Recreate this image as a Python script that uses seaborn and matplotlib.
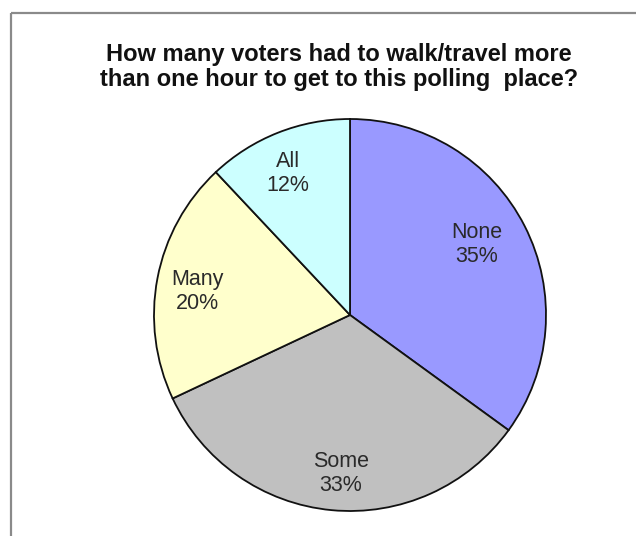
import matplotlib
matplotlib.use("Agg")
import matplotlib.pyplot as plt
import seaborn as sns
import numpy as np

categories = ["None", "Some", "Many", "All"]
shares = [35, 33, 20, 12]
colors = ["#9999FF", "#C0C0C0", "#FFFFCC", "#CCFFFF"]
title = "How many voters had to walk/travel more\nthan one hour to get to this polling  place?"

# radial placement of each label inside its wedge (fraction of radius)
label_r = [0.74, 0.81, 0.79, 0.79]

sns.set_theme(style="white")
plt.rcParams["font.family"] = ["Liberation Sans", "DejaVu Sans"]

W, H = 636, 536
fig = plt.figure(figsize=(W / 100, H / 100), dpi=100)
fig.patch.set_facecolor("white")

# outer frame: only the top and left edges are visible
frame = fig.add_axes([0, 0, 1, 1])
frame.set_xlim(0, W)
frame.set_ylim(H, 0)
frame.axis("off")
frame.plot([11, W], [13, 13], color="#8a8a8a", lw=1.6, solid_capstyle="butt")
frame.plot([11, 11], [13, H], color="#8a8a8a", lw=1.6, solid_capstyle="butt")

frame.text(339, 67, title, ha="center", va="center", fontsize=17,
           fontweight="bold", color="#111111", linespacing=1.13)

# pie: centre (350, 315) px, radius 196 px
cx, cy, r = 350, 315, 196
ax = fig.add_axes([(cx - r) / W, (H - cy - r) / H, 2 * r / W, 2 * r / H])
wedges, _ = ax.pie(shares, colors=colors, startangle=90, counterclock=False,
                   wedgeprops=dict(edgecolor="#111111", linewidth=1.3))
ax.set_xlim(-1.0, 1.0)
ax.set_ylim(-1.0, 1.0)
ax.set_aspect("equal")
ax.axis("off")

for w, name, val, d in zip(wedges, categories, shares, label_r):
    mid = np.deg2rad((w.theta1 + w.theta2) / 2 + 2)
    ax.text(d * np.cos(mid), d * np.sin(mid), f"{name}\n{val}%",
            ha="center", va="center", fontsize=15.5, color="#2a2a2a",
            linespacing=1.2)

fig.savefig("out.png", dpi=100, facecolor="white")
